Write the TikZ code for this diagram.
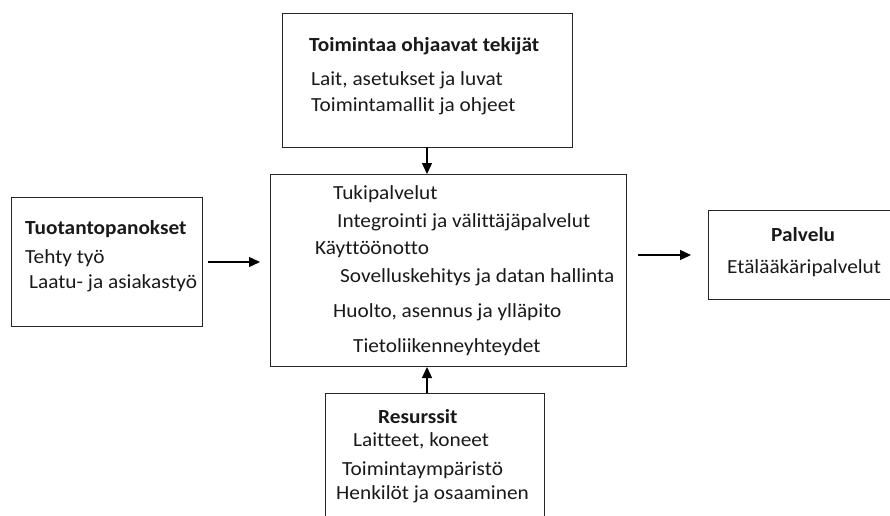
\documentclass[tikz,border=0pt]{standalone}
\usepackage{fontspec}
\setmainfont[FakeStretch=1.065,RawFeature=-liga]{Carlito}
\usetikzlibrary{arrows.meta}
\begin{document}
\begin{tikzpicture}[x=1pt,y=-1pt,
  box/.style={draw=black!85,line width=1pt,inner sep=0pt,anchor=north west},
  txt/.style={anchor=base west,inner sep=0pt,font=\fontsize{20}{24}\selectfont,text=black!90},
  ttl/.style={txt,font=\fontsize{20}{24}\selectfont\bfseries},
  arr/.style={draw=black,line width=1.3pt,-{Triangle[length=11pt,width=10pt]}}]
\useasboundingbox (0,0) rectangle (890,515);
% boxes
\node[box,minimum width=290pt,minimum height=134pt] (top) at (282,13) {};
\node[box,minimum width=356pt,minimum height=192pt] (mid) at (270,174) {};
\node[box,minimum width=191pt,minimum height=129pt] (left) at (11,197) {};
\node[box,minimum width=190pt,minimum height=89pt] (right) at (708,210) {};
\node[box,minimum width=219pt,minimum height=130pt] (bot) at (325,393) {};
% texts top
\node[ttl] (t1) at (309,51) {Toimintaa ohjaavat tekijät};
\node[txt] (t2) at (311,85) {Lait, asetukset ja luvat};
\node[txt] (t3) at (311,111) {Toimintamallit ja ohjeet};
% texts mid
\node[txt] (m1) at (333,199) {Tukipalvelut};
\node[txt] (m2) at (337,227) {Integrointi ja välittäjäpalvelut};
\node[txt] (m3) at (315,254) {Käyttöönotto};
\node[txt] (m4) at (340,282) {Sovelluskehitys ja datan hallinta};
\node[txt] (m5) at (333,317) {Huolto, asennus ja ylläpito};
\node[txt] (m6) at (353,352) {Tietoliikenneyhteydet};
% texts left
\node[ttl] (l1) at (25,234) {Tuotantopanokset};
\node[txt] (l2) at (25,263) {Tehty työ};
\node[txt] (l3) at (29,288) {Laatu- ja asiakastyö};
% texts right
\node[ttl] (r1) at (771,241) {Palvelu};
\node[txt] (r2) at (727,273) {Etälääkäripalvelut};
% texts bottom
\node[ttl] (b1) at (378,423) {Resurssit};
\node[txt] (b2) at (353,446) {Laitteet, koneet};
\node[txt] (b3) at (342,475) {Toimintaympäristö};
\node[txt] (b4) at (336,499) {Henkilöt ja osaaminen};
% arrows
\coordinate (ta) at (427,147);
\coordinate (ba) at (427,393);
\draw[arr] (ta) -- (ta |- mid.north);
\draw[arr] (ba) -- (ba |- mid.south);
\draw[arr,shorten <=5pt,shorten >=10pt] (left.east) -- (left.east -| mid.west);
\draw[arr,shorten <=11pt,shorten >=17pt] (mid.east |- right.west) -- (right.west);
\end{tikzpicture}
\end{document}
